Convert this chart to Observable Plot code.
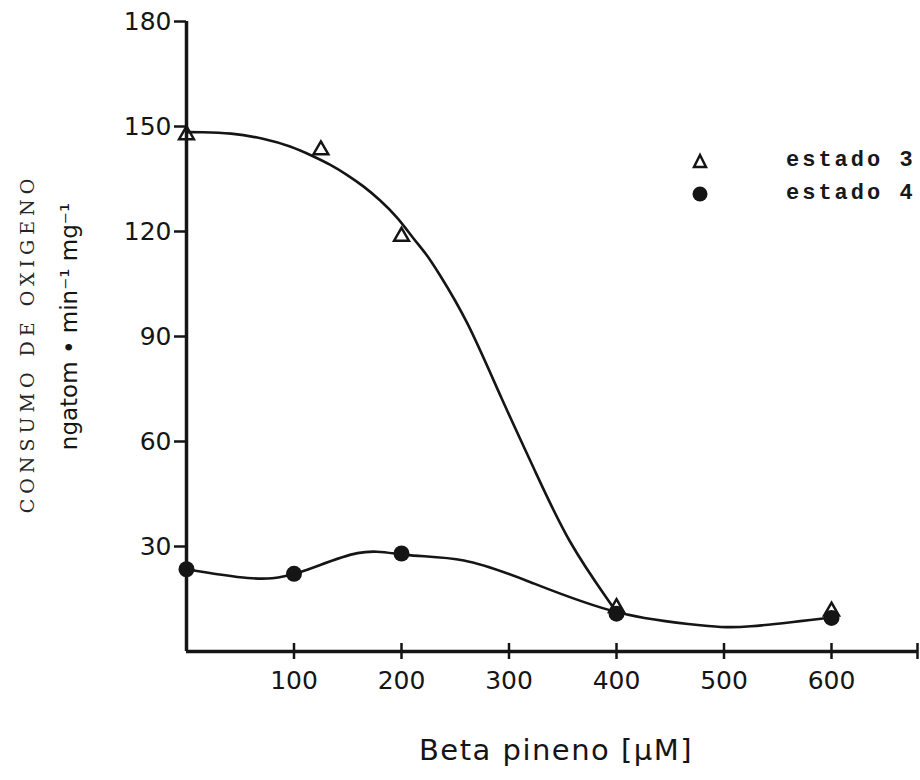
<!DOCTYPE html>
<html><head><meta charset="utf-8">
<script src="https://cdn.jsdelivr.net/npm/d3@7"></script>
<script src="https://cdn.jsdelivr.net/npm/@observablehq/plot@0.6"></script>
<style>
body{margin:0;background:#fff;}
#wrap{position:relative;width:920px;height:780px;}
.leg{position:absolute;left:691px;display:flex;align-items:center;font-family:"Liberation Mono",monospace;font-size:22px;font-weight:bold;letter-spacing:3px;color:#181818;white-space:pre;}
.leg svg{margin-right:77px;}
.ytitle1 text{letter-spacing:5px;}
.xtitle text{letter-spacing:1.5px;}
</style></head><body><div id="wrap"></div>
<script>
// Measured points (Beta pineno µM vs O2 consumption)
const estado3X = [0, 125, 200, 400, 600];
const estado3Y = [147.6, 143.3, 118.6, 12.5, 11.5];
const estado4X = [0, 100, 200, 400, 600];
const estado4Y = [23.5, 22.2, 28, 10.8, 9.6];
// Hand-drawn fitted curves
const curve3X = [0, 13, 41, 72, 97, 118, 134, 149, 165, 180, 196, 211, 224, 232, 261, 293, 325, 355, 397];
const curve3Y = [148.4, 148.4, 148.2, 146.6, 144.4, 141.5, 139.1, 136.3, 132.9, 129, 124.2, 118, 113.2, 109.4, 95, 72.1, 51.1, 31, 12.6];
const curve4X = [0, 57, 103, 159, 204, 258, 320, 401, 478, 525, 601];
const curve4Y = [23.5, 21, 22.4, 28.1, 27.6, 26, 19.8, 11.2, 7.5, 7.2, 9.8];
// Axis ticks
const yTicks = [30, 60, 90, 120, 150, 180];
const xTicks = [100, 200, 300, 400, 500, 600];
const xEnd = 680;
const yMax = 180;
const seriesNames = ["estado 3", "estado 4"];

const pts3 = estado3X.map((x, i) => ({x, y: estado3Y[i]}));
const pts4 = estado4X.map((x, i) => ({x, y: estado4Y[i]}));
const c3 = curve3X.map((x, i) => ({x, y: curve3Y[i]}));
const c4 = curve4X.map((x, i) => ({x, y: curve4Y[i]}));
const ink = "#151515";

const chart = Plot.plot({
  width: 920, height: 780,
  marginLeft: 186, marginRight: 3, marginTop: 21, marginBottom: 129,
  style: {fontFamily: "'DejaVu Sans', sans-serif", fontSize: "25px", color: ink, background: "white"},
  x: {domain: [0, xEnd]},
  y: {domain: [0, yMax]},
  marks: [
    Plot.ruleX([0], {y1: 0, y2: yMax, stroke: ink, strokeWidth: 3.5}),
    Plot.ruleY([0], {x1: 0, x2: xEnd, stroke: ink, strokeWidth: 3.5}),
    Plot.axisY({ticks: yTicks, tickSize: 12, tickPadding: 3, tickFormat: d => d, strokeWidth: 2.5, label: null, fontSize: 25}),
    Plot.ruleX([...xTicks, xEnd], {y1: 0, y2: 0, insetTop: -8, insetBottom: -8, stroke: ink, strokeWidth: 2.5}),
    Plot.axisX({ticks: xTicks, tickSize: 0, tickPadding: 20, tickFormat: d => d, label: null, fontSize: 25}),
    Plot.line(c3, {x: "x", y: "y", curve: "basis", stroke: ink, strokeWidth: 2.6}),
    Plot.line(c4, {x: "x", y: "y", curve: "natural", stroke: ink, strokeWidth: 2.6}),
    Plot.dot(pts4, {x: "x", y: "y", r: 8, fill: ink}),
    Plot.dot(pts3, {x: "x", y: "y", symbol: "triangle", r: 5.5, stroke: ink, strokeWidth: 2.5, fill: "none"}),
    Plot.text(["CONSUMO DE OXIGENO"], {frameAnchor: "left", textAnchor: "middle", lineAnchor: "middle", rotate: -90, dx: -159, dy: 7, fontFamily: "'DejaVu Serif', serif", fontSize: 19, fill: "#252525", className: "ytitle1"}),
    Plot.text(["ngatom \u2022 min\u207B\u00B9 mg\u207B\u00B9"], {frameAnchor: "left", textAnchor: "middle", lineAnchor: "middle", rotate: -90, dx: -117, dy: -10, fontFamily: "'DejaVu Sans', sans-serif", fontSize: 23, fill: ink}),
    Plot.text(["Beta pineno [\u03BCM]"], {frameAnchor: "bottom", textAnchor: "middle", lineAnchor: "middle", dx: 4, dy: 99, fontFamily: "'DejaVu Sans', sans-serif", fontSize: 29, fill: ink, className: "xtitle"})
  ]
});
const wrap = document.getElementById("wrap");
wrap.appendChild(chart);

const legendRows = [
  {name: seriesNames[0], top: 148, svg: '<svg width="18" height="18" viewBox="0 0 18 18"><polygon points="9,3 15,15 3,15" fill="white" stroke="' + ink + '" stroke-width="2.5"/></svg>'},
  {name: seriesNames[1], top: 181, svg: '<svg width="18" height="18" viewBox="0 0 18 18"><circle cx="9" cy="9" r="7.5" fill="' + ink + '"/></svg>'}
];
legendRows.forEach(r => {
  const d = document.createElement("div");
  d.className = "leg";
  d.style.top = r.top + "px";
  d.innerHTML = r.svg + "<span>" + r.name + "</span>";
  wrap.appendChild(d);
});
</script>
</body></html>
